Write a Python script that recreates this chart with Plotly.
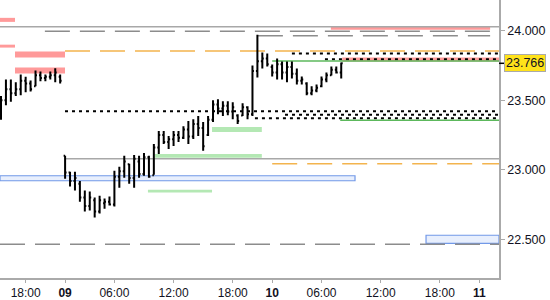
import plotly.graph_objects as go

# ---------------- data ----------------
bar_index = list(range(70))
highs = [23.53, 23.65, 23.65, 23.63, 23.686, 23.67, 23.643, 23.714, 23.707, 23.686, 23.707, 23.73, 23.686,
         23.10, 22.986, 22.986, 22.92, 22.85, 22.843, 22.80, 22.814, 22.793, 22.807, 22.993, 23.021,
         23.10, 23.043, 23.107, 23.10, 23.121, 23.10, 23.186, 23.279, 23.279, 23.243, 23.279, 23.279,
         23.314, 23.35, 23.364, 23.386, 23.343, 23.386, 23.50, 23.507, 23.493, 23.493, 23.486, 23.40,
         23.479, 23.457, 23.75, 23.971, 23.843, 23.836, 23.757, 23.80, 23.779, 23.779, 23.779, 23.729,
         23.671, 23.629, 23.60, 23.614, 23.671, 23.70, 23.743, 23.743, 23.771]
lows = [23.36, 23.465, 23.49, 23.53, 23.536, 23.557, 23.564, 23.60, 23.636, 23.636, 23.65, 23.63, 23.62,
        22.936, 22.879, 22.85, 22.77, 22.70, 22.707, 22.657, 22.686, 22.72, 22.743, 22.736, 22.871,
        22.943, 22.90, 22.871, 22.943, 22.957, 22.943, 22.964, 23.114, 23.186, 23.15, 23.171, 23.20,
        23.221, 23.186, 23.221, 23.243, 23.136, 23.243, 23.343, 23.40, 23.386, 23.393, 23.364, 23.329,
        23.386, 23.364, 23.386, 23.664, 23.729, 23.743, 23.671, 23.65, 23.65, 23.629, 23.657, 23.614,
        23.614, 23.536, 23.536, 23.557, 23.593, 23.629, 23.679, 23.693, 23.657]
opens = [23.40, 23.50, 23.58, 23.55, 23.58, 23.64, 23.62, 23.60, 23.68, 23.66, 23.67, 23.68, 23.67,
         23.10, 22.98, 22.92, 22.90, 22.80, 22.74, 22.78, 22.70, 22.76, 22.77, 22.75, 22.95,
         22.99, 23.04, 22.94, 23.06, 22.97, 23.09, 22.96, 23.16, 23.25, 23.20, 23.22, 23.25,
         23.23, 23.29, 23.24, 23.33, 23.30, 23.25, 23.36, 23.47, 23.44, 23.46, 23.42, 23.39,
         23.39, 23.45, 23.40, 23.71, 23.78, 23.80, 23.74, 23.70, 23.76, 23.70, 23.74, 23.69,
         23.64, 23.62, 23.55, 23.57, 23.60, 23.65, 23.68, 23.72, 23.70]
closes = [23.50, 23.58, 23.55, 23.58, 23.64, 23.62, 23.58, 23.68, 23.66, 23.67, 23.68, 23.70, 23.64,
          22.98, 22.92, 22.94, 22.80, 22.74, 22.80, 22.70, 22.78, 22.77, 22.75, 22.95, 22.99,
          23.06, 22.94, 23.08, 22.97, 23.09, 22.95, 23.16, 23.25, 23.20, 23.22, 23.25, 23.23,
          23.29, 23.24, 23.33, 23.30, 23.17, 23.36, 23.47, 23.44, 23.46, 23.42, 23.45, 23.35,
          23.45, 23.40, 23.71, 23.78, 23.80, 23.76, 23.70, 23.76, 23.70, 23.74, 23.69, 23.64,
          23.65, 23.55, 23.57, 23.59, 23.65, 23.68, 23.72, 23.70, 23.766]
last_price = 23.766

tick_pos = [5, 13, 23, 35, 47, 55, 65, 77, 89, 97]
tick_text = ["18:00", "<b>09</b>", "06:00", "12:00", "18:00", "<b>10</b>", "06:00", "12:00", "18:00", "<b>11</b>"]
price_ticks = [22.5, 23.0, 23.5, 24.0]

X_MIN, X_MAX = -0.203, 101.0
Y_MIN, Y_MAX = 22.2214, 24.2214

# zones: (x0, x1, low, high)
pink_zones = [(X_MIN, 2.84, 24.064, 24.093), (X_MIN, 2.84, 23.879, 23.90),
              (2.84, 12.98, 23.807, 23.85), (2.84, 12.98, 23.693, 23.736),
              (66.9, 99.2, 24.007, 24.027), (69.2, X_MAX, 23.779, 23.807)]
green_zones = [(42.8, 52.9, 23.271, 23.307), (31.2, 52.9, 23.086, 23.114), (29.8, 42.8, 22.836, 22.857)]
blue_zones = [(X_MIN, 71.8, 22.921, 22.957), (86.2, X_MAX, 22.471, 22.529)]
# levels: (x0, x1, price)
grey_solid = [(X_MIN, X_MAX, 24.029), (12.98, X_MAX, 23.079)]
grey_dashed = [(8.9, 99.2, 23.996), (52.1, 99.2, 23.964), (X_MIN, X_MAX, 22.464)]
orange_dashed = [(12.98, X_MAX, 23.854), (55.0, X_MAX, 23.043)]
black_dotted = [(59.0, X_MAX, 23.836), (65.7, X_MAX, 23.796), (12.98, X_MAX, 23.421),
                (57.6, X_MAX, 23.396), (51.5, X_MAX, 23.371)]
green_lines = [(55.0, X_MAX, 23.782), (68.8, X_MAX, 23.357)]

# ---------------- figure ----------------
fig = go.Figure()
fig.add_trace(go.Ohlc(x=bar_index, open=opens, high=highs, low=lows, close=closes,
                      increasing_line_color="black", decreasing_line_color="black",
                      line_width=2, tickwidth=0.3, hoverinfo="skip"))

shapes = []
for x0, x1, lo, hi in pink_zones:
    shapes.append(dict(type="rect", xref="x", yref="y", x0=x0, x1=x1, y0=lo, y1=hi,
                       fillcolor="#ff9a9a", line_width=0, layer="below"))
for x0, x1, lo, hi in green_zones:
    shapes.append(dict(type="rect", xref="x", yref="y", x0=x0, x1=x1, y0=lo, y1=hi,
                       fillcolor="#b4e8b4", line_width=0, layer="below"))
for x0, x1, lo, hi in blue_zones:
    shapes.append(dict(type="rect", xref="x", yref="y", x0=x0, x1=x1, y0=lo, y1=hi,
                       fillcolor="#e8effd", line=dict(color="#7299e8", width=1.2), layer="below"))
for x0, x1, p in grey_solid:
    shapes.append(dict(type="line", xref="x", yref="y", x0=x0, x1=x1, y0=p, y1=p,
                       line=dict(color="#a8a8a8", width=1.5), layer="below"))
for x0, x1, p in grey_dashed:
    shapes.append(dict(type="line", xref="x", yref="y", x0=x0, x1=x1, y0=p, y1=p,
                       line=dict(color="#8c8c8c", width=1.5, dash="25px,10px"), layer="below"))
for x0, x1, p in orange_dashed:
    shapes.append(dict(type="line", xref="x", yref="y", x0=x0, x1=x1, y0=p, y1=p,
                       line=dict(color="#f3b44e", width=1.5, dash="25px,10px"), layer="below"))
for x0, x1, p in black_dotted:
    shapes.append(dict(type="line", xref="x", yref="y", x0=x0, x1=x1, y0=p, y1=p,
                       line=dict(color="black", width=2, dash="3px,4px"), layer="below"))
for x0, x1, p in green_lines:
    shapes.append(dict(type="line", xref="x", yref="y", x0=x0, x1=x1, y0=p, y1=p,
                       line=dict(color="#5cb85c", width=1.5), layer="below"))
# last price marker on axis
shapes.append(dict(type="line", xref="paper", yref="y", x0=1.0, x1=1.011, y0=last_price, y1=last_price,
                   line=dict(color="black", width=1.5)))

fig.update_layout(
    width=550, height=300,
    margin=dict(l=0, r=51, t=0, b=20),
    paper_bgcolor="white", plot_bgcolor="white",
    showlegend=False,
    shapes=shapes,
    font=dict(family="Liberation Sans, Arial, sans-serif", size=12, color="#111122"),
    xaxis=dict(range=[X_MIN, X_MAX], tickvals=tick_pos, ticktext=tick_text,
               showgrid=False, zeroline=False, showline=True, linecolor="#aaaaaa", linewidth=1.5,
               ticks="outside", ticklen=3, tickcolor="#aaaaaa", rangeslider=dict(visible=False),
               tickfont=dict(size=12)),
    yaxis=dict(range=[Y_MIN, Y_MAX], side="right", tickvals=price_ticks, tickformat=".3f",
               showgrid=False, zeroline=False, showline=True, linecolor="#aaaaaa", linewidth=1.5,
               ticks="outside", ticklen=4, tickcolor="#aaaaaa", tickfont=dict(size=12.5)),
)
fig.add_annotation(xref="paper", yref="y", x=1.0, y=last_price, xanchor="left", xshift=5,
                   text=f"{last_price:.3f}", showarrow=False, bgcolor="#ffe21a",
                   bordercolor="#aaaaaa", borderwidth=1, borderpad=1,
                   font=dict(size=12.5, color="#111122"))

fig.write_html("out.html")
